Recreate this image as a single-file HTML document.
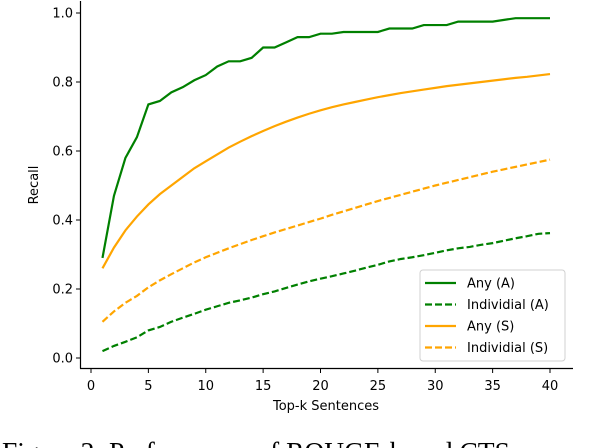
<!DOCTYPE html>
<html><head><meta charset="utf-8"><style>
body{margin:0;background:#fff;width:600px;height:448px;overflow:hidden;position:relative}
svg{position:absolute;left:0;top:0}
text{font-family:"DejaVu Sans","Liberation Sans",sans-serif;fill:#000}
</style></head><body>
<svg width="600" height="448">
<g id="axes"></g>
<g id="series"></g>
<g id="legend"></g>
<text x="2" y="461" style="font-family:'Liberation Serif',serif;font-size:27.5px">Figure 2: Performance of ROUGE-based CTS, measured</text>
</svg>
<script>
const ks=[1,2,3,4,5,6,7,8,9,10,11,12,13,14,15,16,17,18,19,20,21,22,23,24,25,26,27,28,29,30,31,32,33,34,35,36,37,38,39,40];
const anyA=[0.29,0.47,0.58,0.64,0.735,0.745,0.77,0.785,0.805,0.82,0.845,0.86,0.86,0.87,0.9,0.9,0.915,0.93,0.93,0.94,0.94,0.945,0.945,0.945,0.945,0.955,0.955,0.955,0.965,0.965,0.965,0.975,0.975,0.975,0.975,0.98,0.985,0.985,0.985,0.985];
const indA=[0.02,0.035,0.047,0.06,0.08,0.09,0.105,0.117,0.128,0.14,0.15,0.16,0.167,0.175,0.185,0.193,0.203,0.213,0.222,0.23,0.237,0.245,0.253,0.262,0.27,0.28,0.287,0.292,0.298,0.305,0.312,0.318,0.322,0.328,0.333,0.34,0.347,0.353,0.36,0.362];
const anyS=[0.26,0.32,0.37,0.41,0.445,0.475,0.5,0.525,0.55,0.57,0.59,0.61,0.627,0.643,0.658,0.672,0.685,0.697,0.708,0.718,0.727,0.735,0.742,0.749,0.756,0.762,0.768,0.773,0.778,0.783,0.788,0.792,0.796,0.8,0.804,0.808,0.812,0.815,0.819,0.823];
const indS=[0.105,0.135,0.16,0.18,0.205,0.225,0.243,0.26,0.277,0.292,0.305,0.318,0.33,0.342,0.353,0.364,0.374,0.384,0.394,0.404,0.415,0.425,0.435,0.445,0.455,0.464,0.473,0.482,0.491,0.5,0.508,0.516,0.524,0.532,0.54,0.547,0.554,0.561,0.568,0.575];
const xTicks=[0,5,10,15,20,25,30,35,40];
const yTicks=[0.0,0.2,0.4,0.6,0.8,1.0];
const seriesNames=["Any (A)","Individial (A)","Any (S)","Individial (S)"];
const NS="http://www.w3.org/2000/svg";
const X=v=>91+v*11.475, Y=v=>358-v*345;
function mk(t,a,p){const e=document.createElementNS(NS,t);for(const k in a)e.setAttribute(k,a[k]);p.appendChild(e);return e;}
const ax=document.getElementById('axes');
let s=mk('line',{x1:80.5,y1:1,x2:80.5,y2:368.5,stroke:'#000','stroke-width':1.2},ax);


s=mk('line',{x1:80,y1:368.5,x2:573,y2:368.5,stroke:'#000','stroke-width':1.2},ax);


xTicks.forEach(v=>{
 mk('line',{x1:X(v),y1:368.5,x2:X(v),y2:373,stroke:'#000'},ax);
 const t=mk('text',{x:X(v),y:390,'text-anchor':'middle','font-size':13},ax);t.textContent=v;
 
 
});
yTicks.forEach(v=>{
 mk('line',{x1:76,y1:Y(v),x2:80.5,y2:Y(v),stroke:'#000'},ax);
 const t=mk('text',{x:73,y:Y(v)+4.5,'text-anchor':'end','font-size':13},ax);t.textContent=v.toFixed(1);
 
 
});
let t=mk('text',{x:326,y:410,'text-anchor':'middle','font-size':13},ax);t.textContent='Top-k Sentences';


t=mk('text',{x:38,y:185,'text-anchor':'middle','font-size':13,transform:'rotate(-90 38 185)'},ax);t.textContent='Recall';


const sg=document.getElementById('series');
const defs=[[anyA,'#008000',null],[indA,'#008000','7,3'],[anyS,'#FFA500',null],[indS,'#FFA500','7,3']];
defs.forEach((d,i)=>{
 const p=mk('polyline',{points:ks.map((k,j)=>X(k)+','+Y(d[0][j])).join(' '),fill:'none',stroke:d[1],'stroke-width':2.2},sg);
 if(d[2])p.setAttribute('stroke-dasharray',d[2]);
 
 
});
const lg=document.getElementById('legend');
const box=mk('rect',{x:420,y:270,width:145,height:91,rx:3,fill:'#fff',stroke:'#d0d0d0'},lg);


defs.forEach((d,i)=>{
 const yy=283+i*21.5;
 const l=mk('line',{x1:425,y1:yy,x2:456,y2:yy,stroke:d[1],'stroke-width':2.2},lg);
 if(d[2])l.setAttribute('stroke-dasharray',d[2]);
 const tx=mk('text',{x:467,y:yy+4.5,'font-size':13},lg);tx.textContent=seriesNames[i];
 
 
});
</script>
</body></html>
